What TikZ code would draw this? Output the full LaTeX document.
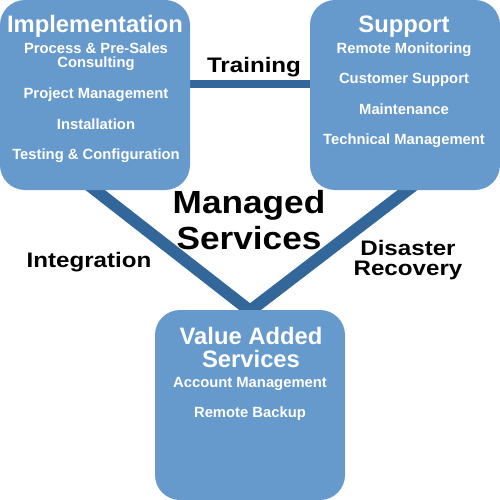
\documentclass[tikz,border=0pt]{standalone}
\usepackage{fontspec}
\setmainfont{Liberation Sans}
\newfontfamily\lblfont[FakeStretch=1.15]{Liberation Sans}
\newfontfamily\bigfont[FakeStretch=1.1]{Liberation Sans}
\usetikzlibrary{backgrounds}
\definecolor{boxblue}{RGB}{102,153,204}
\definecolor{lineblue}{RGB}{51,102,153}
\tikzset{
  box/.style={fill=boxblue, draw=none, rounded corners=25pt, inner sep=0pt},
  conn/.style={draw=lineblue, line join=miter},
  title/.style={anchor=base, text=white, inner sep=0pt, font=\bfseries\fontsize{23.8}{26}\selectfont},
  item/.style={anchor=base, text=white, inner sep=0pt, font=\bfseries\fontsize{14.8}{16}\selectfont},
  lbl/.style={anchor=base, text=black, inner sep=0pt, font=\lblfont\bfseries\fontsize{21}{23}\selectfont},
  big/.style={anchor=base, text=black, inner sep=0pt, font=\bigfont\bfseries\fontsize{32}{34}\selectfont},
}
\begin{document}
\begin{tikzpicture}[x=1pt,y=-1pt]
\useasboundingbox (0,0) rectangle (500,500);
% boxes
\node[box, minimum width=190pt, minimum height=190pt] (impl) at (95,95) {};
\node[box, minimum width=190pt, minimum height=190pt] (supp) at (405,95) {};
\node[box, minimum width=190pt, minimum height=190pt] (val) at (250,405) {};
\coordinate (trainy) at (0,84);
% connectors
\begin{scope}[on background layer]
\draw[conn, line width=8pt] (impl.east |- trainy) -- (supp.west |- trainy);
\draw[conn, line width=12pt] ([xshift=-15pt,yshift=12pt]impl.south) -- ([yshift=-1pt]val.north) -- ([xshift=18pt,yshift=12pt]supp.south);
\end{scope}
% Implementation texts
\node[title] (t1) at (95,33) {Implementation};
\node[item] (i1) at (96,54) {Process \& Pre-Sales};
\node[item] (i2) at (96,68) {Consulting};
\node[item] (i3) at (96,99) {Project Management};
\node[item] (i4) at (96,129) {Installation};
\node[item] (i5) at (96,159) {Testing \& Configuration};
% Support texts
\node[title] (t2) at (404,33) {Support};
\node[item] (s1) at (404,54) {Remote Monitoring};
\node[item] (s2) at (404,84) {Customer Support};
\node[item] (s3) at (404,114) {Maintenance};
\node[item] (s4) at (404,144) {Technical Management};
% Value added texts
\node[title] (t3) at (251,344) {Value Added};
\node[title] (t3b) at (251,367) {Services};
\node[item] (v1) at (250,387) {Account Management};
\node[item] (v2) at (250,417) {Remote Backup};
% centre
\node[big] (m1) at (249,213) {Managed};
\node[big] (m2) at (249,249) {Services};
% labels
\node[lbl] (l1) at (254,73) {Training};
\node[lbl] (l2) at (89,267) {Integration};
\node[lbl] (l3) at (408,255) {Disaster};
\node[lbl] (l4) at (408,275) {Recovery};
\end{tikzpicture}
\end{document}
